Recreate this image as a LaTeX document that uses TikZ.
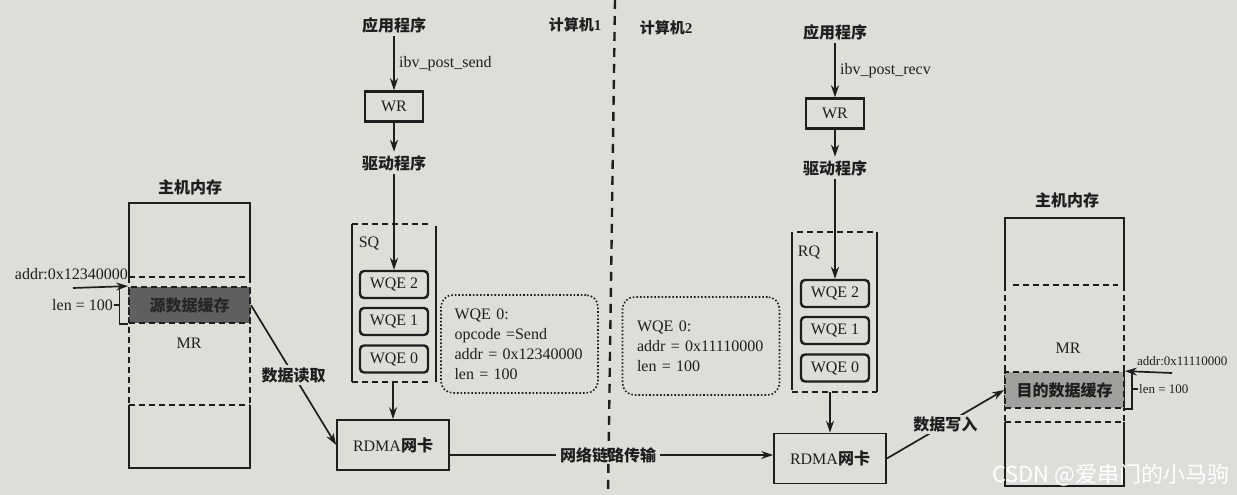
\documentclass[tikz,border=0pt]{standalone}
\usepackage{fontspec}
\setmainfont{Liberation Serif}
\newfontfamily\cjk{Noto Sans CJK SC}
\usetikzlibrary{arrows.meta}
\definecolor{paper}{RGB}{222,222,217}
\definecolor{ink}{RGB}{30,30,30}
\definecolor{bufdark}{RGB}{95,95,95}
\definecolor{buflight}{RGB}{160,160,157}
\begin{document}
\begin{tikzpicture}[x=1pt,y=-1pt,
 every node/.style={text=ink,font=\fontsize{16}{20}\selectfont},
 arr/.style={draw=ink,line width=1.7pt,-{Stealth[length=12pt,width=8pt]}},
 ln/.style={draw=ink,line width=1.7pt},
 dsh/.style={draw=ink,line width=1.8pt,dash pattern=on 6pt off 4pt},
 wrbox/.style={draw=ink,line width=2.4pt,minimum width=58pt,minimum height=30pt,inner sep=0pt},
 wqe/.style={draw=ink,line width=2.4pt,rounded corners=4pt,minimum width=68pt,minimum height=27pt,inner sep=0pt},
 nic/.style={draw=ink,line width=1.7pt,minimum width=112pt,minimum height=50pt,inner sep=0pt},
 info/.style={draw=ink,line width=1.6pt,dotted,rounded corners=12pt,minimum width=157pt,minimum height=98pt,inner ysep=0pt,align=left},
 lbl/.style={fill=paper,inner sep=2pt},
 cn/.style={font=\cjk\bfseries\fontsize{16}{20}\selectfont},
 side/.style={font=\fontsize{13}{16}\selectfont,inner sep=1pt},
 buf/.style={draw=ink,line width=1.8pt,dash pattern=on 6pt off 4pt,minimum height=36pt,inner sep=0pt},
]
\fill[paper] (0,0) rectangle (1237,495);
\useasboundingbox (0,0) rectangle (1237,495);

% separator
\draw[ink,line width=2.4pt,dash pattern=on 9pt off 7pt] (615,0) -- (608,495);
\node[font=\bfseries\fontsize{15}{18}\selectfont] (pc1) at (575,25) {{\cjk 计算机}1};
\node[font=\bfseries\fontsize{15}{18}\selectfont] (pc2) at (666,28) {{\cjk 计算机}2};

% ---------- left stack ----------
\node[cn] (app1) at (394,25) {应用程序};
\node[wrbox] (wr1) at (394,106.5) {WR};
\node[cn] (drv1) at (394,163) {驱动程序};
\node[wqe] (wqe12) at (394,284.5) {WQE 2};
\node[wqe] (wqe11) at (394,321.5) {WQE 1};
\node[wqe] (wqe10) at (394,359) {WQE 0};
\draw[arr] (app1) -- node[right=1pt,pos=0.5] {ibv\_post\_send} (wr1);
\draw[arr] (wr1) -- (drv1);
\draw[arr] (drv1) -- (wqe12);
% SQ container
\draw[dsh] (352,224) -- (428,224);
\draw[ln] (352,224) -- (352,382);
\draw[ln] (436,226) -- (436,382);
\draw[dsh] (352,382) -- (428,382);
\node (sq) at (369,243) {SQ};
\coordinate (sq1b) at (393,382);
\node[nic] (nic1) at (393,445) {RDMA{\cjk\bfseries 网卡}};
\draw[arr] (sq1b) -- (nic1);
\node[info,text width=130pt] (info1) at (519.5,344) {WQE 0:\\opcode =Send\\addr = 0x12340000\\len = 100};

% ---------- right stack ----------
\node[cn] (app2) at (835,32) {应用程序};
\node[wrbox] (wr2) at (835,113.5) {WR};
\node[cn] (drv2) at (835,168) {驱动程序};
\node[wqe] (wqe22) at (835,293.5) {WQE 2};
\node[wqe] (wqe21) at (835,330.5) {WQE 1};
\node[wqe] (wqe20) at (835,368) {WQE 0};
\draw[arr] (app2) -- node[right=1pt,pos=0.5] {ibv\_post\_recv} (wr2);
\draw[arr] (wr2) -- (drv2);
\draw[arr] (drv2) -- (wqe22);
% RQ container
\draw[dsh] (797,232) -- (877,232);
\draw[ln] (792,232) -- (792,390);
\draw[ln] (877,232) -- (877,392);
\draw[dsh] (792,392) -- (877,392);
\node (rq) at (809,252) {RQ};
\coordinate (rq2b) at (830,392);
\node[nic] (nic2) at (830,458.5) {RDMA{\cjk\bfseries 网卡}};
\draw[arr] (rq2b) -- (nic2);
\node[info,text width=128pt] (info2) at (701,346) {WQE 0:\\addr = 0x11110000\\len = 100};

% network link
\node[cn] (lnk) at (608,455) {网络链路传输};
\draw[ln] (nic1.east |- lnk.west) -- (lnk.west);
\draw[arr] (lnk.east) -- (lnk.east -| nic2.west);

% ---------- left memory ----------
\node[cn] (mt1) at (190,187) {主机内存};
\draw[ln,line width=1.8pt] (129,277) -- (129,203) -- (250,203) -- (250,277);
\draw[dsh] (129,277) -- (250,277);
\draw[dsh] (129,277) -- (129,405);
\draw[dsh] (250,277) -- (250,405);
\draw[dsh] (129,405) -- (250,405);
\draw[ln,line width=1.8pt] (129,405) -- (129,468) -- (250,468) -- (250,405);
\node[buf,fill=bufdark,minimum width=121pt,text=black!85] (buf1) at (189.5,305) {\cjk\bfseries 源数据缓存};
\node (mr1) at (189,343) {MR};
\node[anchor=east,inner sep=1pt] (addr1) at (129,274) {addr:0x12340000};
\coordinate (a1) at (73,288);
\draw[arr] (a1) -- (buf1.north west);
\node[anchor=east,inner sep=1pt] (len1) at (114,305) {len = 100};
\draw[ln,line width=1.2pt] ([xshift=-9pt]buf1.north west) -- ([xshift=-9pt]buf1.south west) -- (buf1.south west);
\draw[ln,line width=1.2pt] (len1.east) -- ++(6,0);
\draw[arr] (buf1.east) -- node[lbl,cn] {数据读取} (nic1.west);

% ---------- right memory ----------
\node[cn] (mt2) at (1067,200) {主机内存};
\draw[ln,line width=1.8pt] (1005,285) -- (1005,218) -- (1124,218) -- (1124,285);
\draw[dsh] (1013,285) -- (1118,285);
\draw[dsh] (1005,285) -- (1005,422);
\draw[dsh] (1124,285) -- (1124,422);
\draw[dsh] (1005,422) -- (1124,422);
\draw[ln,line width=1.8pt] (1005,422) -- (1005,486) -- (1124,486) -- (1124,422);
\node[buf,fill=buflight,minimum width=119pt] (buf2) at (1064.5,390) {\cjk\bfseries 目的数据缓存};
\node (mr2) at (1068,348) {MR};
\node[side,anchor=west] (addr2) at (1136,361) {addr:0x11110000};
\coordinate (a2) at (1172,373);
\draw[arr] (a2) -- (buf2.north east);
\node[side,anchor=west] (len2) at (1138,389) {len = 100};
\draw[ln,line width=1.2pt] ([xshift=7pt]buf2.north east) -- ([xshift=7pt]buf2.south east) -- (buf2.south east);
\draw[ln,line width=1.2pt] (len2.west) -- ++(-7,0);
\draw[arr] (nic2.east) -- node[lbl,cn] {数据写入} (buf2.west);

% watermark
\node[anchor=east,text=white,font=\cjk\fontsize{22}{24}\selectfont] (wm) at (1233,475) {CSDN @爱串门的小马驹};
\end{tikzpicture}
\end{document}
